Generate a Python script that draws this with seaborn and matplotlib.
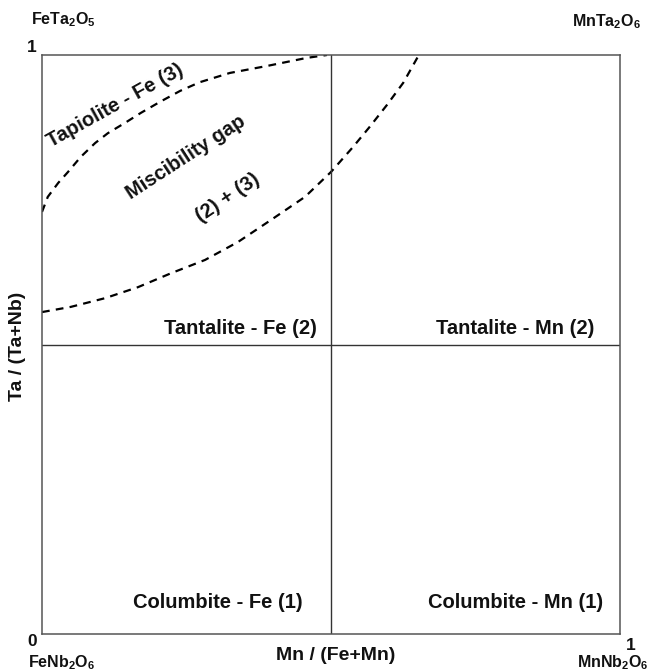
import matplotlib
matplotlib.use("Agg")
import matplotlib.pyplot as plt
import seaborn as sns
import pandas as pd

sns.set_theme(style="white")
plt.rcParams['font.family'] = ['Liberation Sans', 'DejaVu Sans']
plt.rcParams['mathtext.fontset'] = 'custom'
plt.rcParams['mathtext.rm'] = 'Liberation Sans'
plt.rcParams['mathtext.bf'] = 'Liberation Sans:bold'
plt.rcParams['mathtext.it'] = 'Liberation Sans:italic'
plt.rcParams['text.color'] = '#111111'

# Upper boundary (tapiolite limit)
upper_x = [0.0, 0.010, 0.028, 0.045, 0.067, 0.092, 0.114, 0.144, 0.171,
           0.204, 0.239, 0.273, 0.325, 0.389, 0.458, 0.493]
upper_y = [0.729, 0.755, 0.779, 0.798, 0.824, 0.848, 0.865, 0.883, 0.900,
           0.919, 0.938, 0.953, 0.969, 0.981, 0.995, 1.0]
# Lower boundary (tantalite limit)
lower_x = [0.0, 0.050, 0.109, 0.166, 0.223, 0.282, 0.339, 0.396, 0.455,
           0.500, 0.538, 0.567, 0.597, 0.625, 0.652]
lower_y = [0.556, 0.565, 0.580, 0.599, 0.623, 0.646, 0.677, 0.715, 0.755,
           0.798, 0.841, 0.876, 0.914, 0.952, 1.0]

region_labels = ["Tapiolite - Fe (3)", "Miscibility gap", "(2) + (3)",
                 "Tantalite - Fe (2)", "Tantalite - Mn (2)",
                 "Columbite - Fe (1)", "Columbite - Mn (1)"]
region_x = [0.127, 0.249, 0.322, 0.343, 0.818, 0.304, 0.820]
region_y = [0.912, 0.824, 0.753, 0.527, 0.527, 0.055, 0.055]
region_rot = [29, 33, 34, 0, 0, 0, 0]

corner_labels = [r"$\mathbf{FeTa_2O_5}$", r"$\mathbf{MnTa_2O_6}$",
                 r"$\mathbf{FeNb_2O_6}$", r"$\mathbf{MnNb_2O_6}$"]

fig = plt.figure(figsize=(6.51, 6.71), dpi=100)
W, H = 651, 671
ax = fig.add_axes([42 / W, 1 - 634 / H, 578 / W, 579 / H])

df_u = pd.DataFrame({"x": upper_x, "y": upper_y})
df_l = pd.DataFrame({"x": lower_x, "y": lower_y})
for df in (df_u, df_l):
    sns.lineplot(data=df, x="x", y="y", ax=ax, color="black", sort=False,
                 linewidth=1.6, linestyle=(0, (3.5, 2.8)))

ax.axvline(0.5, color="#333333", linewidth=1.0)
ax.axhline(0.5, color="#333333", linewidth=1.0)

ax.set_xlim(0, 1)
ax.set_ylim(0, 1)
ax.set_xticks([])
ax.set_yticks([])
ax.set_xlabel("")
ax.set_ylabel("")
for s in ax.spines.values():
    s.set_visible(True)
    s.set_color("#555555")
    s.set_linewidth(1.1)

for lab, x, y, r in zip(region_labels, region_x, region_y, region_rot):
    ax.text(x, y, lab, ha="center", va="center", rotation=r,
            fontsize=14.5, fontweight="bold", color="#111111")

def ft(px, py, s, **kw):
    fig.text(px / W, 1 - py / H, s, ha="center", va="center",
             color="#111111", **kw)

ft(63, 20, corner_labels[0], fontsize=11.5)
ft(606, 22, corner_labels[1], fontsize=11.5)
ft(62, 663, corner_labels[2], fontsize=11.5)
ft(613, 663, corner_labels[3], fontsize=11.5)
ft(32, 47, "1", fontsize=12.5, fontweight="bold")
ft(32, 641, "0", fontsize=12.5, fontweight="bold")
ft(631, 646, "1", fontsize=12.5, fontweight="bold")
ft(336, 655, "Mn / (Fe+Mn)", fontsize=14, fontweight="bold")
ft(18, 346, "Ta / (Ta+Nb)", fontsize=14, fontweight="bold", rotation=90)

fig.savefig("out.png", dpi=100, facecolor="white")
